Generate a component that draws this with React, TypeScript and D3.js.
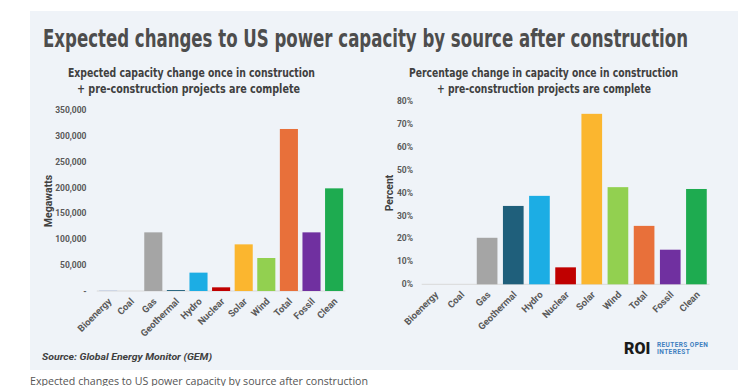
import React from "react";
import * as d3 from "d3";

const categories = ["Bioenergy", "Coal", "Gas", "Geothermal", "Hydro", "Nuclear", "Solar", "Wind", "Total", "Fossil", "Clean"];
const megawatts = [500, 0, 113400, 1800, 35500, 7100, 90200, 63800, 313300, 113400, 198500];
const percentChange = [0, 0, 20.3, 34.2, 38.6, 7.4, 74.4, 42.4, 25.5, 15.1, 41.6];
const barColors = ["#8faadc", "#404040", "#a5a5a5", "#1f5f7b", "#1cade4", "#c00000", "#fbb62f", "#92d050", "#e8703a", "#7030a0", "#1eab50"];
const mwTicks = [0, 50000, 100000, 150000, 200000, 250000, 300000, 350000];
const pctTicks = [0, 10, 20, 30, 40, 50, 60, 70, 80];

const COND = "'Liberation Sans Narrow', 'DejaVu Sans Condensed', Roboto, sans-serif";
const SANS = "Roboto, 'Noto Sans', sans-serif";

function Panel(props: {
  values: number[];
  ticks: number[];
  max: number;
  x0: number;
  x1: number;
  y0: number;
  yTop: number;
  padding: number;
  tickX: number;
  fmt: (v: number) => string;
  label: string;
  labelX: number;
  labelY: number;
}) {
  const { values, ticks, max, x0, x1, y0, yTop, padding, tickX, fmt, label, labelX, labelY } = props;
  const x = d3.scaleBand<string>().domain(categories).range([x0, x1]).paddingInner(padding).paddingOuter(padding / 2);
  const y = d3.scaleLinear().domain([0, max]).range([y0, yTop]);
  return (
    <g>
      <line x1={x0} x2={x1} y1={y0} y2={y0} stroke="#d9d9d9" strokeWidth={1} />
      {ticks.map((t) => (
        <text key={t} x={tickX} y={y(t)} dy="0.35em" textAnchor="end" fontFamily={SANS} fontWeight={700} fontSize={8.5} fill="#595959">
          {fmt(t)}
        </text>
      ))}
      {categories.map((c, i) => {
        const h = y0 - y(values[i]);
        return h > 0 ? (
          <rect key={c} x={x(c)!} y={y(values[i])} width={x.bandwidth()} height={h} fill={barColors[i]} />
        ) : null;
      })}
      {categories.map((c) => {
        const cx = x(c)! + x.bandwidth() / 2;
        return (
          <text
            key={c}
            transform={`translate(${cx + 4},${y0 + 11}) rotate(-45)`}
            textAnchor="end"
            fontFamily={SANS}
            fontWeight={700}
            fontSize={9.5}
            fill="#595959"
          >
            {c}
          </text>
        );
      })}
      <text
        transform={`translate(${labelX},${labelY}) rotate(-90)`}
        textAnchor="middle"
        fontFamily={SANS}
        fontWeight={700}
        fontSize={10.5}
        fill="#404040"
      >
        {label}
      </text>
    </g>
  );
}

export default function App() {
  const mwFmt = (v: number) => (v === 0 ? "-" : d3.format(",")(v));
  const pctFmt = (v: number) => `${v}%`;
  return (
    <svg width={738} height={386} style={{ position: "absolute", left: 0, top: 0 }} xmlns="http://www.w3.org/2000/svg">
      <rect x={0} y={0} width={738} height={386} fill="#ffffff" />
      <rect x={30} y={11} width={708} height={359} fill="#eff3f8" />
      <text x={43} y={47} fontFamily={COND} fontWeight={700} fontSize={24} fill="#4d4d4d" textLength={645} lengthAdjust="spacingAndGlyphs">
        Expected changes to US power capacity by source after construction
      </text>
      <text x={68} y={77} fontFamily={COND} fontWeight={700} fontSize={12.5} fill="#404040" textLength={247} lengthAdjust="spacingAndGlyphs">
        Expected capacity change once in construction
      </text>
      <text x={77} y={93} fontFamily={COND} fontWeight={700} fontSize={12.5} fill="#404040" textLength={223} lengthAdjust="spacingAndGlyphs">
        + pre-construction projects are complete
      </text>
      <text x={409} y={77} fontFamily={COND} fontWeight={700} fontSize={12.5} fill="#404040" textLength={269} lengthAdjust="spacingAndGlyphs">
        Percentage change in capacity once in construction
      </text>
      <text x={437} y={93} fontFamily={COND} fontWeight={700} fontSize={12.5} fill="#404040" textLength={214} lengthAdjust="spacingAndGlyphs">
        + pre-construction projects are complete
      </text>
      <Panel
        values={megawatts}
        ticks={mwTicks}
        max={350000}
        x0={96.8}
        x1={345.4}
        y0={291}
        yTop={110}
        padding={0.2}
        tickX={86.5}
        fmt={mwFmt}
        label="Megawatts"
        labelX={52}
        labelY={201}
      />
      <Panel
        values={percentChange}
        ticks={pctTicks}
        max={80}
        x0={421.7}
        x1={709.5}
        y0={284.3}
        yTop={101}
        padding={0.21}
        tickX={413}
        fmt={pctFmt}
        label="Percent"
        labelX={393}
        labelY={193}
      />
      <text x={42} y={360} fontFamily={SANS} fontWeight={700} fontStyle="italic" fontSize={9.5} fill="#404040" textLength={170} lengthAdjust="spacingAndGlyphs">
        Source: Global Energy Monitor (GEM)
      </text>
      <text x={624} y={354} fontFamily={SANS} fontWeight={900} fontSize={16} fill="#1a1a1a">
        ROI
      </text>
      <text x={657} y={346.5} fontFamily={SANS} fontWeight={700} fontSize={6.5} fill="#3f7fbf" letterSpacing={0.4}>
        REUTERS OPEN
      </text>
      <text x={657} y={354} fontFamily={SANS} fontWeight={700} fontSize={6.5} fill="#3f7fbf" letterSpacing={0.4}>
        INTEREST
      </text>
      <text x={30} y={385} fontFamily="'Open Sans', sans-serif" fontSize={11} fill="#555555" textLength={338} lengthAdjust="spacingAndGlyphs">
        Expected changes to US power capacity by source after construction
      </text>
    </svg>
  );
}
